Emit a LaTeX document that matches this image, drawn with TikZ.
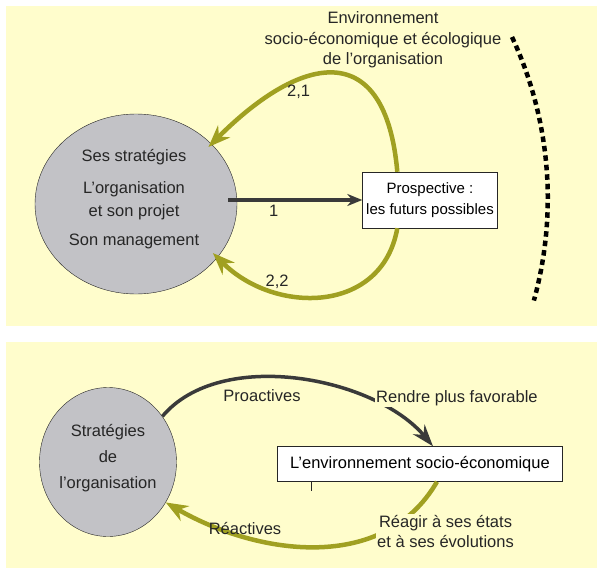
\documentclass[tikz,border=0pt]{standalone}
\usepackage{fontspec}
\setsansfont{Liberation Sans}
\usetikzlibrary{shapes.geometric}
\usetikzlibrary{arrows.meta}
\usetikzlibrary{positioning}
\definecolor{mybg}{HTML}{FFFDCC}
\definecolor{mygrey}{HTML}{C2C2C6}
\definecolor{myink}{HTML}{262626}
\definecolor{myolive}{HTML}{A0A021}
\definecolor{mydark}{HTML}{3A3A3A}
\tikzset{x=1pt, y=1pt, every text node part/.style={align=center, font={\sffamily\fontsize{16.5}{23}\selectfont}}}
\tikzstyle{blob} = [ellipse, draw=myink, fill=mygrey, thin, inner sep=0pt]
\tikzstyle{block} = [draw=myink, fill=white, thin, inner sep=0pt]
\tikzstyle{tag} = [text=myink, fill=mybg, inner sep=1pt]
\tikzstyle{dln} = [draw=mydark, line width=3.5pt, -{Stealth[length=15pt, width=12pt]}]
\tikzstyle{gln} = [draw=myolive, line width=4.5pt, -{Stealth[length=22pt, width=17pt]}]
\tikzstyle{rim} = [draw=black, line width=4.5pt, dash pattern=on 5.5pt off 4pt]

\begin{document}
\begin{tikzpicture}
  \useasboundingbox (0,0) rectangle (597,-570);
  \fill[mybg] (6,-6) rectangle (597,-326);
  \fill[mybg] (6,-342) rectangle (597,-568);
  % top panel
  \node[blob, minimum width=202, minimum height=180] (org) at (136,-204) {};
  \node[text=myink] (orgtxt) at (134,-199) {Ses stratégies\\[9pt]L'organisation\\et son projet\\[6pt]Son management};
  \node[block, minimum width=135, minimum height=56, every text node part/.append style={font={\sffamily\fontsize{15}{21}\selectfont}}] (pros) at (430,-200) {Prospective :\\les futurs possibles};
  \node[text=myink, every text node part/.append style={font={\sffamily\fontsize{16.5}{20.5}\selectfont}}] (envtop) at (383,-40) {Environnement\\socio-économique et écologique\\de l'organisation};
  \draw[rim] (512,-37) arc[start angle=25, end angle=-15.5, radius=382];
  \path[dln] ([shift={(-9,4)}]org.east) -- node[pos=0.34, below, text=myink] (one) {1} (pros.west);
  \draw[gln] ([xshift=35]pros.north west) to[out=95, in=45, looseness=1.8] node[pos=0.66, below=-2pt, text=myink] (tw1) {2,1} ([xshift=-6]org.36);
  \draw[gln] ([xshift=35]pros.south west) to[out=-100, in=-45, looseness=1.2] node[pos=0.7, above=-3pt, text=myink] (tw2) {2,2} ([xshift=-8]org.-30);
  % bottom panel
  \node[blob, minimum width=137, minimum height=149] (org2) at (108,-462) {};
  \node[text=myink, every text node part/.append style={font={\sffamily\fontsize{16.5}{26}\selectfont}}] (org2txt) at (108,-458) {Stratégies\\de\\l'organisation};
  \node[block, minimum width=285, minimum height=35] (envbox) at (420,-464) {L'environnement socio-économique};
  \draw[myink] ([xshift=34]envbox.south west) -- ++(0,-9);
  \draw[dln, -{Stealth[length=22pt, width=15pt]}] (org2.40) to[out=50, in=130, looseness=0.85] ([xshift=13]envbox.north);
  \draw[gln] ([xshift=17]envbox.south) to[out=-120, in=-30, looseness=1.0] (org2.-35);
  \node[text=myink] (pro) at (262,-396) {Proactives};
  \node[tag, anchor=west] (fav) at (375,-398) {Rendre plus favorable};
  \node[text=myink] (rea) at (245,-528) {Réactives};
  \node[tag, anchor=west, align=left, every text node part/.append style={font={\sffamily\fontsize{16.5}{20}\selectfont}}] (reag) at (376,-531) {Réagir à ses états\\et à ses évolutions};
\end{tikzpicture}
\end{document}
